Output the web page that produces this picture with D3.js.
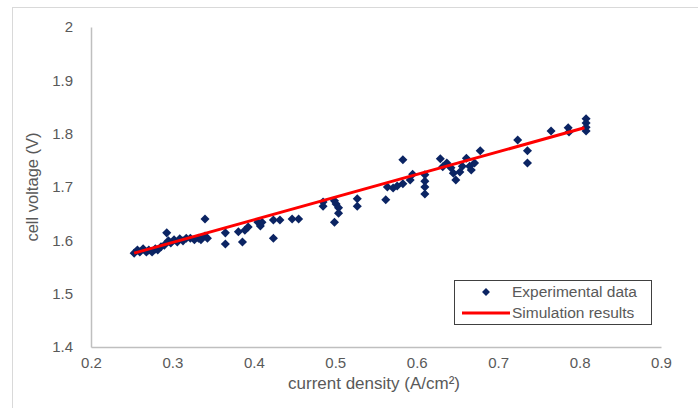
<!DOCTYPE html>
<html>
<head>
<meta charset="utf-8">
<script src="https://cdn.jsdelivr.net/npm/d3@7"></script>
<style>
  html, body { margin: 0; padding: 0; background: #fff; }
  svg { display: block; font-family: "Liberation Sans", Arial, sans-serif; }
</style>
</head>
<body>
<svg id="chart" width="698" height="408"></svg>
<script>
// Experimental data (current density A/cm², cell voltage V)
const expCurrent = [
  0.253, 0.257, 0.260, 0.264, 0.268, 0.271, 0.275, 0.279, 0.282, 0.286,
  0.290, 0.293, 0.295, 0.298, 0.302, 0.306, 0.309, 0.313, 0.317, 0.322,
  0.327, 0.332, 0.335, 0.340, 0.340, 0.343,
  0.365, 0.365, 0.381, 0.386, 0.389, 0.393, 0.405, 0.408, 0.410, 0.424,
  0.424, 0.432, 0.447, 0.455,
  0.485, 0.485, 0.499, 0.501, 0.504, 0.504, 0.499, 0.527, 0.527, 0.562,
  0.564, 0.571, 0.576, 0.583, 0.583, 0.592, 0.595, 0.610, 0.610, 0.610,
  0.610,
  0.629, 0.632, 0.637, 0.642, 0.645, 0.648, 0.653, 0.656, 0.661, 0.665,
  0.667, 0.671, 0.678,
  0.724, 0.736, 0.736, 0.765, 0.786, 0.787, 0.808, 0.808, 0.808, 0.808
];
const expVoltage = [
  1.576, 1.582, 1.578, 1.584, 1.578, 1.582, 1.578, 1.584, 1.582, 1.588,
  1.591, 1.614, 1.599, 1.595, 1.601, 1.597, 1.603, 1.599, 1.604, 1.604,
  1.601, 1.604, 1.601, 1.608, 1.640, 1.604,
  1.614, 1.593, 1.616, 1.597, 1.619, 1.625, 1.634, 1.627, 1.634, 1.638,
  1.604, 1.638, 1.640, 1.640,
  1.672, 1.664, 1.674, 1.668, 1.661, 1.651, 1.634, 1.678, 1.664, 1.676,
  1.700, 1.698, 1.702, 1.706, 1.751, 1.713, 1.724, 1.723, 1.711, 1.700,
  1.687,
  1.753, 1.738, 1.745, 1.736, 1.726, 1.713, 1.728, 1.739, 1.754, 1.739,
  1.732, 1.745, 1.768,
  1.788, 1.768, 1.745, 1.805, 1.811, 1.803, 1.828, 1.820, 1.812, 1.805
];
// Simulation results (straight line)
const simCurrent = [0.253, 0.806];
const simVoltage = [1.576, 1.811];

const xTicks = [0.2, 0.3, 0.4, 0.5, 0.6, 0.7, 0.8, 0.9];
const yTicks = [1.4, 1.5, 1.6, 1.7, 1.8, 1.9, 2];
const xTitle = "current density (A/cm²)";
const yTitle = "cell voltage (V)";
const legendLabels = ["Experimental data", "Simulation results"];

const svg = d3.select("#chart");
const W = 698, H = 408;

// outer chart frame
svg.append("rect")
  .attr("x", 12.5).attr("y", 7.5)
  .attr("width", W + 10).attr("height", H + 10)
  .attr("fill", "#fff").attr("stroke", "#d9d9d9").attr("stroke-width", 1);

const x = d3.scaleLinear().domain([0.2, 0.9]).range([91, 661]);
const y = d3.scaleLinear().domain([1.4, 2.0]).range([347, 27]);

const textColor = "#595959";

// X axis
const xAxis = svg.append("g")
  .attr("transform", `translate(0,${y(1.4)})`)
  .call(d3.axisBottom(x).tickValues(xTicks).tickSize(0).tickPadding(10)
        .tickFormat(d3.format("")));
xAxis.select(".domain").attr("stroke", "#bfbfbf").attr("stroke-width", 1.5);
xAxis.selectAll("text").attr("fill", textColor).attr("font-size", 15)
  .attr("font-family", "Liberation Sans, Arial, sans-serif");

// Y axis
const yAxis = svg.append("g")
  .attr("transform", `translate(${x(0.2)},0)`)
  .call(d3.axisLeft(y).tickValues(yTicks).tickSize(0).tickPadding(18)
        .tickFormat(d3.format("")));
yAxis.select(".domain").attr("stroke", "#bfbfbf").attr("stroke-width", 1.5);
yAxis.selectAll("text").attr("fill", textColor).attr("font-size", 15)
  .attr("font-family", "Liberation Sans, Arial, sans-serif");

// Axis titles
svg.append("text")
  .attr("x", (x(0.2) + x(0.9)) / 2 - 2).attr("y", 389)
  .attr("text-anchor", "middle")
  .attr("fill", textColor).attr("font-size", 17)
  .text(xTitle);
svg.append("text")
  .attr("transform", `translate(38,${y(1.7)}) rotate(-90)`)
  .attr("text-anchor", "middle")
  .attr("fill", textColor).attr("font-size", 16.5)
  .text(yTitle);

// Points
const pts = expCurrent.map((c, i) => ({ c, v: expVoltage[i] }));
const diamond = d3.symbol().type(d3.symbolDiamond2 || d3.symbolDiamond).size(52);
svg.append("g").selectAll("path")
  .data(pts).join("path")
  .attr("d", diamond)
  .attr("transform", d => `translate(${x(d.c)},${y(d.v)})`)
  .attr("fill", "#0b2463");

// Simulation line
const sim = simCurrent.map((c, i) => ({ c, v: simVoltage[i] }));
svg.append("path")
  .datum(sim)
  .attr("d", d3.line().x(d => x(d.c)).y(d => y(d.v)))
  .attr("fill", "none").attr("stroke", "#ff0000").attr("stroke-width", 3);

// Legend
const lg = svg.append("g");
lg.append("rect").attr("x", 454.5).attr("y", 280.5).attr("width", 197).attr("height", 44)
  .attr("fill", "#fff").attr("stroke", "#404040").attr("stroke-width", 1);
lg.append("path").attr("d", d3.symbol().type(d3.symbolDiamond2 || d3.symbolDiamond).size(40))
  .attr("transform", "translate(486,292)").attr("fill", "#0b2463");
lg.append("line").attr("x1", 462).attr("x2", 510).attr("y1", 313).attr("y2", 313)
  .attr("stroke", "#ff0000").attr("stroke-width", 3);
lg.selectAll("text.lbl").data(legendLabels).join("text")
  .attr("class", "lbl")
  .attr("x", 512).attr("y", (d, i) => 297 + i * 21)
  .attr("fill", textColor).attr("font-size", 15.5)
  .text(d => d);
</script>
</body>
</html>
